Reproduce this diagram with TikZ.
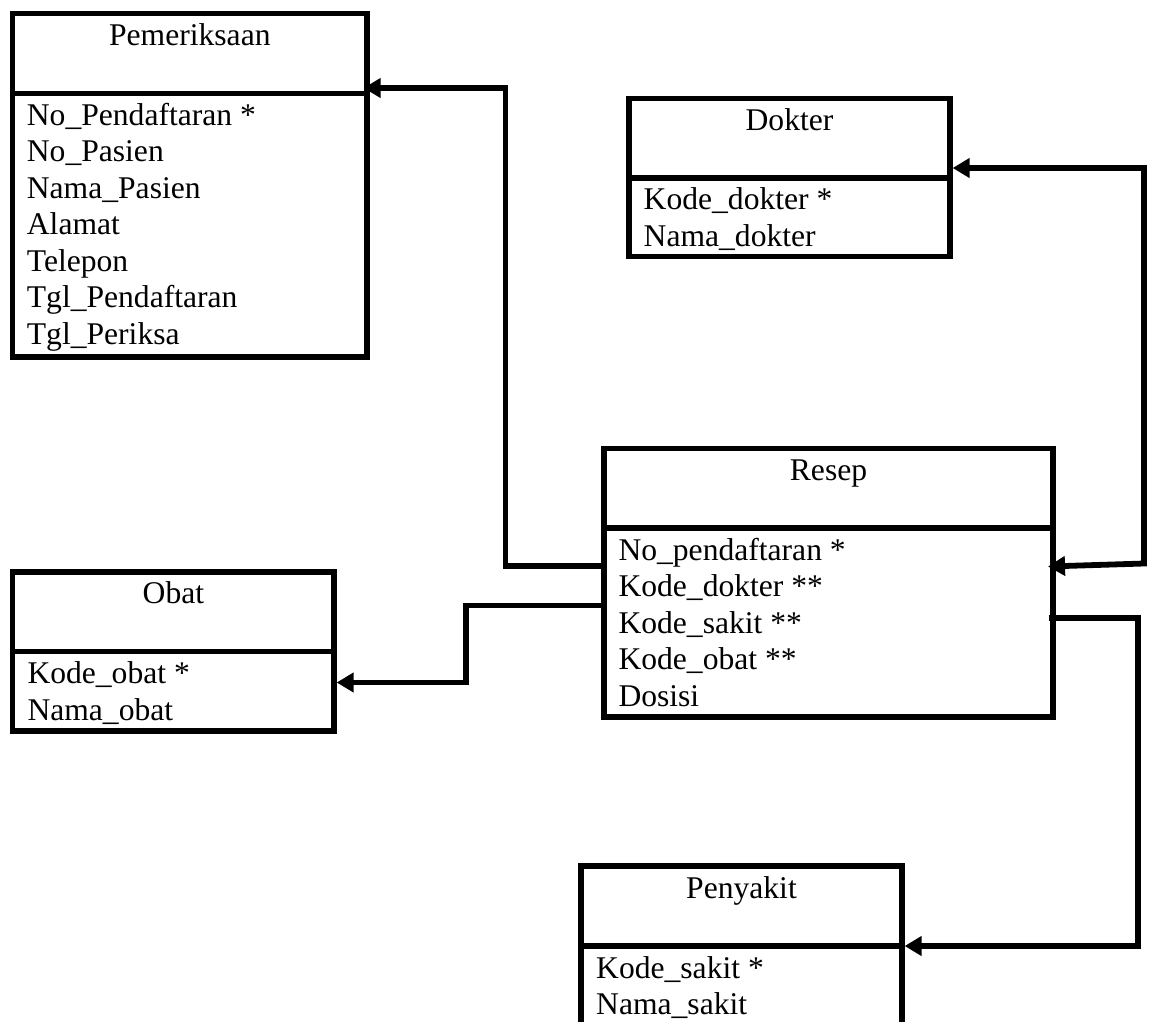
\documentclass[tikz,border=0pt]{standalone}
\usepackage{fontspec}
\setmainfont{Liberation Serif}
\usetikzlibrary{arrows.meta,calc}
\begin{document}
\begin{tikzpicture}[x=1pt,y=-1pt,
  entity/.style={draw=black,line width=5.3pt,rectangle,inner sep=0pt},
  divider/.style={draw=black,line width=5.3pt},
  title/.style={anchor=base,inner sep=0pt,font=\fontsize{31.6}{36.5}\selectfont},
  row/.style={anchor=base west,inner sep=0pt,font=\fontsize{31.6}{36.5}\selectfont},
  conn/.style={draw=black,line width=5.8pt,line join=miter},
  tip/.tip={Triangle[length=17pt,width=19pt]}
]
\clip (0,0) rectangle (1151,1021);
\fill[white] (0,0) rectangle (1151,1021);

% Pemeriksaan
\node[entity,minimum width=354.3pt,minimum height=343.5pt] (pem) at (189.85,185.25) {};
\draw[divider] (pem.west |- 0,93.3) -- (pem.east |- 0,93.3);
\node[title] (pemT) at (189.85,45.5) {Pemeriksaan};
\node[row] (pem1) at (26.7,125.3) {No\_Pendaftaran *};
\node[row] (pem2) at (26.7,161.8) {No\_Pasien};
\node[row] (pem3) at (26.7,198.3) {Nama\_Pasien};
\node[row] (pem4) at (26.7,234.8) {Alamat};
\node[row] (pem5) at (26.7,271.3) {Telepon};
\node[row] (pem6) at (26.7,307.8) {Tgl\_Pendaftaran};
\node[row] (pem7) at (26.7,344.3) {Tgl\_Periksa};

% Dokter
\node[entity,minimum width=321pt,minimum height=158.4pt] (dok) at (789.5,177.5) {};
\draw[divider] (dok.west |- 0,178) -- (dok.east |- 0,178);
\node[title] (dokT) at (789.5,130) {Dokter};
\node[row] (dok1) at (643.5,209.5) {Kode\_dokter *};
\node[row] (dok2) at (643.5,246) {Nama\_dokter};

% Resep
\node[entity,minimum width=449pt,minimum height=268.7pt] (res) at (828.5,582.65) {};
\draw[divider] (res.west |- 0,528) -- (res.east |- 0,528);
\node[title] (resT) at (828.5,480) {Resep};
\node[row] (res1) at (618.3,560) {No\_pendaftaran *};
\node[row] (res2) at (618.3,596.5) {Kode\_dokter **};
\node[row] (res3) at (618.3,633) {Kode\_sakit **};
\node[row] (res4) at (618.3,669.5) {Kode\_obat **};
\node[row] (res5) at (618.3,706) {Dosisi};

% Obat
\node[entity,minimum width=321.2pt,minimum height=159pt] (oba) at (173.4,651.5) {};
\draw[divider] (oba.west |- 0,651.7) -- (oba.east |- 0,651.7);
\node[title] (obaT) at (173.4,603.5) {Obat};
\node[row] (oba1) at (27.3,683.7) {Kode\_obat *};
\node[row] (oba2) at (27.3,720.2) {Nama\_obat};

% Penyakit
\node[entity,minimum width=321pt,minimum height=194pt] (pen) at (741.5,963) {};
\draw[divider] (pen.west |- 0,946) -- (pen.east |- 0,946);
\node[title] (penT) at (741.5,898) {Penyakit};
\node[row] (pen1) at (596,978) {Kode\_sakit *};
\node[row] (pen2) at (596,1014.5) {Nama\_sakit};

% connectors
\coordinate (c1) at (505.5,566.3);
\coordinate (c2) at (505.5,88);
\draw[conn,-tip] (res.west |- c1) -- (c1) -- (c2) -- ($(pem.east |- c2)+(-6,0)$);

\coordinate (o1) at (466.3,605.5);
\coordinate (o2) at (466.3,682.5);
\draw[conn,-tip] (res.west |- o1) -- (o1) -- (o2) -- (oba.east |- o2);

\coordinate (d1) at (1144,168);
\coordinate (d2) at (1144,563.5);
\coordinate (d3) at (1048,566.5);
\draw[conn,tip-tip] (dok.east |- d1) -- (d1) -- (d2) -- (d3);

\coordinate (p1) at (1138,618);
\coordinate (p2) at (1138,946);
\draw[conn,-tip] ($(res.east |- p1)+(-7,0)$) -- (p1) -- (p2) -- (pen.east |- p2);
\end{tikzpicture}
\end{document}
